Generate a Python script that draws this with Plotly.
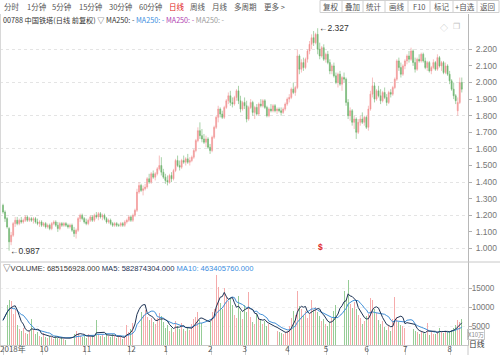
import plotly.graph_objects as go
import pandas as pd

W, H = 500, 355
def px(x): return x / W
def py(y): return 1 - y / H

opens = [1.26,1.22,1.18,1.12,1.04,1.08,1.15,1.17,1.15,1.17,
         1.16,1.17,1.19,1.17,1.18,1.17,1.18,1.16,1.15,1.16,
         1.14,1.15,1.13,1.14,1.12,1.15,1.16,1.14,1.12,1.15,
         1.14,1.15,1.14,1.13,1.14,1.11,1.09,1.11,1.18,1.20,
         1.18,1.16,1.15,1.17,1.19,1.17,1.20,1.19,1.21,1.19,
         1.20,1.18,1.16,1.17,1.15,1.14,1.15,1.14,1.14,1.15,
         1.14,1.16,1.17,1.19,1.17,1.20,1.23,1.34,1.38,1.35,
         1.36,1.37,1.42,1.40,1.45,1.43,1.45,1.48,1.50,1.46,
         1.43,1.41,1.40,1.44,1.42,1.47,1.53,1.50,1.49,1.53,
         1.52,1.54,1.52,1.53,1.55,1.59,1.65,1.71,1.68,1.66,
         1.64,1.66,1.61,1.59,1.67,1.73,1.79,1.84,1.81,1.79,
         1.85,1.89,1.92,1.88,1.87,1.91,1.95,1.89,1.84,1.88,
         1.86,1.78,1.85,1.88,1.82,1.85,1.81,1.87,1.86,1.89,
         1.85,1.80,1.84,1.83,1.86,1.83,1.84,1.83,1.82,1.84,
         1.87,1.90,1.91,1.96,1.94,1.97,2.16,2.08,2.12,2.09,
         2.14,2.19,2.23,2.27,2.24,2.29,2.20,2.16,2.21,2.14,
         2.17,2.12,2.07,2.10,2.04,2.00,2.05,1.99,2.03,2.02,
         1.88,1.80,1.83,1.76,1.78,1.70,1.76,1.78,1.76,1.79,
         1.73,1.84,1.93,1.98,1.90,1.95,1.92,1.89,1.94,1.91,
         1.88,1.94,1.93,1.97,2.02,2.13,2.09,2.05,2.10,2.13,
         2.16,2.14,2.19,2.12,2.08,2.14,2.13,2.17,2.13,2.09,
         2.12,2.07,2.09,2.12,2.08,2.15,2.10,2.12,2.06,2.10,
         2.05,2.01,1.96,1.92,1.83,1.88,2.00]
highs = [1.27,1.23,1.19,1.13,1.10,1.16,1.19,1.19,1.18,1.19,
         1.18,1.20,1.20,1.19,1.19,1.19,1.19,1.18,1.17,1.17,
         1.16,1.16,1.15,1.15,1.16,1.17,1.17,1.16,1.16,1.16,
         1.16,1.16,1.15,1.15,1.15,1.13,1.12,1.19,1.21,1.21,
         1.19,1.18,1.18,1.20,1.20,1.21,1.22,1.22,1.22,1.21,
         1.21,1.19,1.18,1.18,1.16,1.16,1.16,1.15,1.16,1.16,
         1.17,1.18,1.20,1.20,1.21,1.24,1.36,1.40,1.39,1.38,
         1.39,1.43,1.45,1.46,1.47,1.46,1.49,1.56,1.55,1.48,
         1.45,1.44,1.45,1.46,1.48,1.54,1.56,1.53,1.54,1.56,
         1.55,1.57,1.55,1.56,1.60,1.66,1.73,1.76,1.72,1.69,
         1.68,1.67,1.63,1.68,1.74,1.80,1.86,1.85,1.83,1.86,
         1.90,1.94,1.95,1.91,1.92,1.96,1.98,1.92,1.89,1.91,
         1.89,1.86,1.90,1.89,1.86,1.87,1.88,1.90,1.90,1.90,
         1.86,1.85,1.87,1.87,1.87,1.85,1.85,1.85,1.85,1.88,
         1.91,1.93,1.97,2.00,1.98,2.20,2.17,2.14,2.15,2.15,
         2.20,2.25,2.29,2.31,2.30,2.327,2.24,2.22,2.23,2.18,
         2.19,2.14,2.11,2.12,2.06,2.06,2.07,2.04,2.06,2.03,
         1.90,1.85,1.84,1.80,1.79,1.78,1.80,1.82,1.80,1.80,
         1.86,1.95,2.03,2.00,1.96,1.98,1.96,1.95,1.97,1.93,
         1.95,1.96,1.98,2.03,2.14,2.15,2.12,2.11,2.14,2.17,
         2.19,2.21,2.20,2.15,2.15,2.17,2.18,2.18,2.15,2.13,
         2.13,2.10,2.14,2.13,2.17,2.16,2.13,2.13,2.12,2.11,
         2.07,2.02,2.00,1.93,1.91,2.03,2.03]
lows = [1.21,1.16,1.12,0.987,1.02,1.07,1.13,1.14,1.14,1.15,
        1.15,1.16,1.16,1.16,1.16,1.15,1.15,1.14,1.13,1.13,
        1.13,1.12,1.12,1.11,1.11,1.14,1.13,1.10,1.11,1.13,
        1.13,1.13,1.12,1.12,1.10,1.07,1.06,1.10,1.16,1.17,
        1.15,1.14,1.14,1.16,1.16,1.16,1.18,1.17,1.18,1.17,
        1.17,1.15,1.15,1.14,1.13,1.13,1.13,1.13,1.13,1.13,
        1.13,1.15,1.16,1.16,1.16,1.19,1.22,1.33,1.34,1.32,
        1.35,1.36,1.39,1.39,1.42,1.41,1.44,1.47,1.44,1.42,
        1.39,1.38,1.39,1.40,1.41,1.46,1.49,1.47,1.48,1.51,
        1.50,1.51,1.50,1.52,1.54,1.58,1.64,1.66,1.64,1.63,
        1.61,1.60,1.57,1.58,1.66,1.72,1.76,1.79,1.78,1.78,
        1.84,1.87,1.86,1.85,1.86,1.89,1.87,1.82,1.83,1.84,
        1.76,1.77,1.84,1.80,1.78,1.80,1.80,1.85,1.85,1.84,
        1.79,1.79,1.82,1.82,1.82,1.81,1.82,1.80,1.81,1.83,
        1.86,1.88,1.90,1.93,1.92,1.96,2.05,2.06,2.07,2.08,
        2.12,2.17,2.20,2.22,2.23,2.17,2.14,2.15,2.13,2.12,
        2.11,2.05,2.05,2.03,1.99,1.97,1.98,1.95,2.00,1.86,
        1.78,1.77,1.74,1.72,1.66,1.69,1.74,1.75,1.74,1.72,
        1.71,1.83,1.91,1.88,1.89,1.91,1.87,1.88,1.90,1.86,
        1.87,1.91,1.92,1.96,2.01,2.07,2.03,2.04,2.08,2.11,
        2.12,2.13,2.10,2.06,2.07,2.12,2.12,2.12,2.08,2.07,
        2.06,2.05,2.08,2.07,2.07,2.09,2.07,2.05,2.05,2.04,
        1.99,1.95,1.90,1.87,1.80,1.87,1.94]
closes = [1.22,1.18,1.13,1.04,1.08,1.15,1.17,1.15,1.17,1.16,
          1.17,1.19,1.17,1.18,1.17,1.18,1.16,1.15,1.16,1.14,
          1.15,1.13,1.14,1.12,1.15,1.16,1.14,1.12,1.15,1.14,
          1.15,1.14,1.13,1.14,1.11,1.09,1.11,1.18,1.20,1.18,
          1.16,1.15,1.17,1.19,1.17,1.20,1.19,1.21,1.19,1.20,
          1.18,1.16,1.17,1.15,1.14,1.15,1.14,1.14,1.15,1.14,
          1.16,1.17,1.19,1.17,1.20,1.23,1.34,1.38,1.35,1.36,
          1.37,1.42,1.40,1.45,1.43,1.45,1.48,1.50,1.46,1.43,
          1.41,1.40,1.44,1.42,1.47,1.53,1.50,1.49,1.53,1.52,
          1.54,1.52,1.53,1.55,1.59,1.65,1.71,1.68,1.66,1.64,
          1.66,1.61,1.59,1.67,1.73,1.79,1.84,1.81,1.79,1.85,
          1.89,1.92,1.88,1.87,1.91,1.95,1.89,1.84,1.88,1.86,
          1.78,1.85,1.88,1.82,1.85,1.81,1.87,1.86,1.89,1.85,
          1.80,1.84,1.83,1.86,1.83,1.84,1.83,1.82,1.84,1.87,
          1.90,1.91,1.96,1.94,1.97,2.16,2.08,2.12,2.09,2.14,
          2.19,2.23,2.27,2.24,2.29,2.20,2.16,2.21,2.14,2.17,
          2.12,2.07,2.10,2.04,2.00,2.05,1.99,2.03,2.02,1.88,
          1.80,1.83,1.76,1.78,1.70,1.76,1.78,1.76,1.79,1.73,
          1.84,1.93,1.98,1.90,1.95,1.92,1.89,1.94,1.91,1.88,
          1.94,1.93,1.97,2.02,2.13,2.09,2.05,2.10,2.13,2.16,
          2.14,2.19,2.12,2.08,2.14,2.13,2.17,2.13,2.09,2.12,
          2.07,2.09,2.12,2.08,2.15,2.10,2.12,2.06,2.10,2.05,
          2.01,1.96,1.92,1.89,1.88,2.00,1.96]
volumes = [6500,8800,10500,11800,11500,8200,9600,5200,4300,3800,
           4600,3200,3000,3600,6900,4000,2800,3400,2500,2200,
           3100,2000,1800,2500,2100,1600,2300,1900,1500,2000,
           1700,1400,2100,1800,2600,3000,3800,3200,2400,2000,
           2600,1800,2900,2200,2500,2000,6500,3000,2400,2700,
           2100,3200,2500,2000,2800,2300,1900,2400,2000,1700,
           2200,5200,3400,4200,5800,9000,18000,9500,8600,7800,
           9200,7400,6500,7200,6000,5500,7000,8300,7600,6000,
           4500,5200,3800,4600,3500,6200,5000,4300,5800,4200,
           3700,4800,3900,5600,6800,7500,8600,6700,5900,5200,
           6400,7200,6000,8800,9500,18400,15200,11000,9600,15000,
           13000,11500,12400,10600,8000,7200,13000,9000,6800,10500,
           8800,14000,7500,6000,5400,8200,7000,6500,5600,6200,
           5000,5400,4800,4300,4900,3800,3500,3200,2900,3400,
           3800,5000,7000,9000,8000,14200,10200,9500,7800,9000,
           7000,8200,11800,9200,10000,8800,7600,6400,6800,5600,
           5000,6000,7200,9000,10500,8000,13600,10500,14200,12000,
           17000,10800,9800,11200,9500,8000,7000,5500,6200,7600,
           8200,12300,11800,9500,8400,6500,5500,6200,4800,4000,
           5200,3800,6800,12600,7400,6000,5200,5000,4500,8700,
           5600,4800,4300,3700,3400,3000,3600,3200,2800,5800,
           2700,3500,3000,3000,3800,4500,3300,3100,3600,3400,
           3800,4000,4600,5200,6500,6000,6852]

month_idx = [0, 20, 41, 63, 81, 103, 120, 141, 160, 180, 199, 221]
month_lbl = ["2018年", "10", "11", "12", "1", "2", "3", "4", "5", "6", "7", "8"]
price_ticks = [1.0, 1.1, 1.2, 1.3, 1.4, 1.5, 1.6, 1.7, 1.8, 1.9, 2.0, 2.1, 2.2]
grid_ticks = [1.0, 1.2, 1.4, 1.6, 1.8, 2.0, 2.2]
vol_ticks = [5000, 10000, 15000]
vol_header = ["▽VOLUME: 685156928.000", "MA5: 582874304.000", "MA10: 463405760.000"]

idx = list(range(len(closes)))
vol_s = pd.Series(volumes, dtype=float)
ma5 = vol_s.rolling(5, min_periods=1).mean()
ma10 = vol_s.rolling(10, min_periods=1).mean()

UP, DN = "#f29595", "#6fb46f"
VUP, VDN = "#f5abab", "#96cc96"
FONT = "Liberation Sans, Noto Sans CJK SC"
CJK = "Noto Sans CJK SC"

xr = [-1.48, 229.06]
xdom = [0, 468 / W]

fig = go.Figure()
fig.add_trace(go.Candlestick(
    x=idx, open=opens, high=highs, low=lows, close=closes,
    increasing=dict(line=dict(color=UP, width=0.6), fillcolor=UP),
    decreasing=dict(line=dict(color=DN, width=0.6), fillcolor=DN),
    whiskerwidth=0, showlegend=False, hoverinfo="skip", xaxis="x", yaxis="y"))
vcol = [VUP if c >= o else VDN for o, c in zip(opens, closes)]
fig.add_trace(go.Bar(x=idx, y=volumes, marker=dict(color=vcol, line=dict(width=0)),
                     width=0.45, showlegend=False, hoverinfo="skip", xaxis="x2", yaxis="y2"))
fig.add_trace(go.Scatter(x=idx, y=ma10, mode="lines", line=dict(color="#3f8fd8", width=1),
                         showlegend=False, hoverinfo="skip", xaxis="x2", yaxis="y2"))
fig.add_trace(go.Scatter(x=idx, y=ma5, mode="lines", line=dict(color="#1e3354", width=1),
                         showlegend=False, hoverinfo="skip", xaxis="x2", yaxis="y2"))

fig.update_layout(
    width=W, height=H, margin=dict(l=0, r=0, t=0, b=0),
    paper_bgcolor="white", plot_bgcolor="white", showlegend=False,
    bargap=0,
    xaxis=dict(domain=xdom, range=xr, anchor="y", showticklabels=False, showgrid=False,
               zeroline=False, rangeslider=dict(visible=False), fixedrange=True),
    xaxis2=dict(domain=xdom, range=xr, anchor="y2", showgrid=False, zeroline=False,
                tickvals=[max(m - 0.5, 0) for m in month_idx], ticktext=month_lbl,
                ticks="outside", ticklen=10, tickcolor="#d0d0d0",
                ticklabelposition="outside right", ticklabelstandoff=-4,
                ticklabelshift=-4,
                tickfont=dict(family=CJK, size=8, color="#555"),
                showline=True, linecolor="#c8c8c8"),
    yaxis=dict(domain=[py(262), py(14)], range=[0.9187, 2.4127], anchor="x", side="right",
               tickvals=price_ticks, ticktext=[f"{v:.3f}" for v in price_ticks],
               ticks="outside", ticklen=3, tickcolor="#b0b0b0", ticklabelstandoff=2,
               tickfont=dict(family=FONT, size=8.5, color="#777"),
               showline=True, linecolor="#b8b8b8", showgrid=False, zeroline=False,
               minor=dict(tickvals=grid_ticks, showgrid=True, gridcolor="#e4e4e4",
                          griddash="dot", ticks="")),
    yaxis2=dict(domain=[py(345), py(262)], range=[0, 21842], anchor="x2", side="right",
                tickvals=vol_ticks, ticktext=[str(v) for v in vol_ticks],
                ticks="outside", ticklen=3, tickcolor="#b0b0b0", ticklabelstandoff=-2,
                tickfont=dict(family=FONT, size=8.2, color="#777"),
                showline=True, linecolor="#b8b8b8", showgrid=True, gridcolor="#efefef",
                griddash="dot", zeroline=False),
)

ann = []
toolbar = [("分时", 2), ("1分钟", 25), ("5分钟", 50), ("15分钟", 77), ("30分钟", 107),
           ("60分钟", 137), ("日线", 167), ("周线", 188), ("月线", 210), ("多周期", 232),
           ("更多 >", 262)]
for t, x in toolbar:
    ann.append(dict(text=t, x=px(x), y=py(6.5), xref="paper", yref="paper", xanchor="left",
                    yanchor="middle", showarrow=False,
                    font=dict(family=CJK, size=7.5, color="#e02020" if t == "日线" else "#555")))
buttons = [("复权", 331), ("叠加", 352.5), ("统计", 374), ("画线", 396.5), ("F10", 419),
           ("标记", 441.5), ("+自选", 465), ("返回", 487.5)]
for t, x in buttons:
    ann.append(dict(text=t, x=px(x), y=py(6.5), xref="paper", yref="paper", xanchor="center",
                    yanchor="middle", showarrow=False,
                    font=dict(family=CJK, size=7.5, color="#555")))
hdr = ("00788 中国铁塔(日线 前复权) ▽ MA250: - "
       "<span style='color:#3b8ee0'>MA250: -</span> "
       "<span style='color:#b03cb0'>MA250: -</span> "
       "<span style='color:#9a9a9a'>MA250: -</span>")
ann.append(dict(text=hdr, x=px(1), y=py(19.5), xref="paper", yref="paper", xanchor="left",
                yanchor="middle", showarrow=False, font=dict(family=CJK, size=7.2, color="#333")))
ann.append(dict(text="◇", x=px(450), y=py(20), xref="paper", yref="paper", showarrow=False,
                font=dict(family=CJK, size=8, color="#c0c0c0")))
ann.append(dict(text="❐", x=px(462), y=py(20), xref="paper", yref="paper", showarrow=False,
                font=dict(family="DejaVu Sans", size=8, color="#c0c0c0")))
imin = lows.index(min(lows))
imax = highs.index(max(highs))
ann.append(dict(text=f"←{min(lows):.3f}", x=imin, y=min(lows), xref="x", yref="y",
                xanchor="left", yanchor="middle", showarrow=False, xshift=-1,
                font=dict(family=FONT, size=8.5, color="#333")))
ann.append(dict(text=f"←{max(highs):.3f}", x=imax, y=max(highs), xref="x", yref="y",
                xanchor="left", yanchor="middle", showarrow=False, xshift=-1,
                font=dict(family=FONT, size=8.5, color="#333")))
ann.append(dict(text="<b>$</b>", x=156.5, y=py(254), xref="x", yref="paper", showarrow=False,
                font=dict(family=FONT, size=8.5, color="#e02828")))
vhdr = (f"{vol_header[0]} "
        f"<span style='color:#1e3354'>{vol_header[1]}</span> "
        f"<span style='color:#3b8ee0'>{vol_header[2]}</span>")
ann.append(dict(text=vhdr, x=px(1), y=py(268), xref="paper", yref="paper", xanchor="left",
                yanchor="middle", showarrow=False, font=dict(family=FONT, size=7.6, color="#333")))
ann.append(dict(text="X10万", x=px(485), y=py(339.5), xref="paper", yref="paper",
                showarrow=False, bordercolor="#c8c8c8", borderwidth=1, borderpad=0,
                font=dict(family=CJK, size=6, color="#888")))
ann.append(dict(text="日线", x=px(487), y=py(350.5), xref="paper", yref="paper", showarrow=False,
                font=dict(family=CJK, size=7.8, color="#333")))
fig.update_layout(annotations=ann)

shapes = [
    dict(type="line", xref="paper", yref="paper", x0=0, x1=1, y0=py(262), y1=py(262),
         line=dict(color="#c8c8c8", width=1)),
    dict(type="line", xref="paper", yref="paper", x0=px(468), x1=px(468), y0=0, y1=py(345),
         line=dict(color="#c8c8c8", width=1)),
    dict(type="line", xref="paper", yref="paper", x0=px(0.5), x1=px(0.5), y0=py(345), y1=py(14),
         line=dict(color="#d8d8d8", width=1)),
    dict(type="rect", xref="paper", yref="paper", x0=px(320), x1=px(499), y0=py(12.5), y1=py(0.5),
         line=dict(color="#d0d0d0", width=1)),
]
for sx in [342, 363, 385, 408, 430, 453, 477]:
    shapes.append(dict(type="line", xref="paper", yref="paper", x0=px(sx), x1=px(sx),
                       y0=py(12.5), y1=py(0.5), line=dict(color="#d0d0d0", width=1)))
fig.update_layout(shapes=shapes)

fig.write_html("out.html", config={"displayModeBar": False, "staticPlot": True},
               post_script="document.body.style.margin='0px';document.body.style.overflow='hidden';")
